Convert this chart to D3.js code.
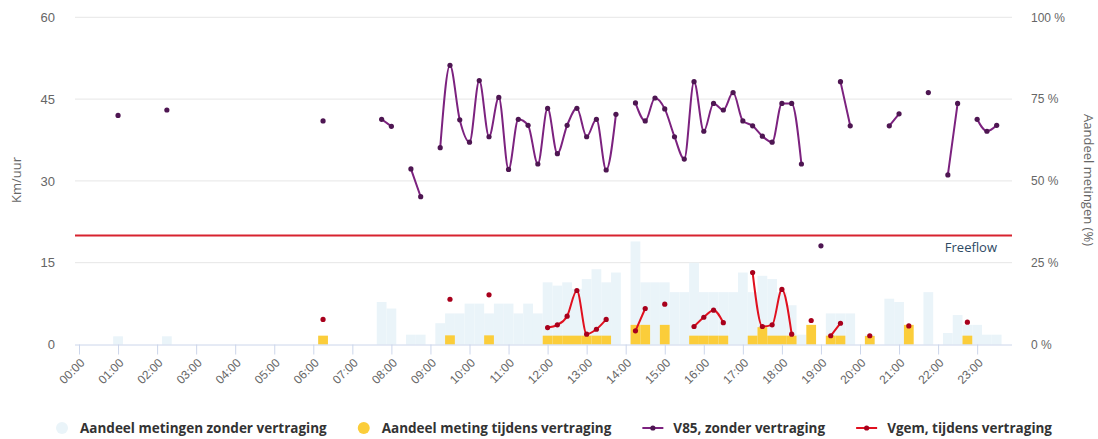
<!DOCTYPE html>
<html>
<head>
<meta charset="utf-8">
<script src="https://cdn.jsdelivr.net/npm/d3@7"></script>
<style>
  html, body { margin: 0; padding: 0; background: #fff; }
  svg { display: block; font-family: "Open Sans", "DejaVu Sans", sans-serif; }
</style>
</head>
<body>
<svg id="chart" width="1098" height="439"></svg>
<script>
// ---- DATA (96 quarter-hour slots, 00:00 .. 23:45) ----
const hourLabels = ["00:00","01:00","02:00","03:00","04:00","05:00","06:00","07:00","08:00","09:00","10:00","11:00",
                    "12:00","13:00","14:00","15:00","16:00","17:00","18:00","19:00","20:00","21:00","22:00","23:00"];

// Aandeel metingen zonder vertraging (%)
const aandeelZonder = [
  0,0,0,0,        2.5,0,0,0,      0,2.5,0,0,      0,0,0,0,
  0,0,0,0,        0,0,0,0,        0,2.5,0,0,      0,0,0,13,
  11,0,3,3,       0,6.5,9.5,9.5,  12.5,12.5,9.5,12.5, 12.5,9.5,12.5,9.5,
  19,18,19,17,    20,23,19,22,    0,31.5,19,19,   19,16,16,25,
  16,16,16,16,    22,16,21,20,    16,12,3,0,      0,9.5,9.5,9.5,
  0,3,0,14,       13,0,0,16,      0,3.5,9,6,      6,3,3,0
];

// Aandeel meting tijdens vertraging (%)
const aandeelVertraging = [
  0,0,0,0,        0,0,0,0,        0,0,0,0,        0,0,0,0,
  0,0,0,0,        0,0,0,0,        0,2.7,0,0,      0,0,0,0,
  0,0,0,0,        0,0,2.8,0,      0,0,2.8,0,      0,0,0,0,
  2.7,2.7,2.7,2.7, 2.7,2.7,2.7,0, 0,6,6,0,        6,0,0,2.7,
  2.7,2.7,2.7,0,  0,2.7,5.3,2.7,  2.7,2.7,0,6,    0,2.7,2.7,0,
  0,2.6,0,0,      0,6,0,0,        0,0,0,2.7,      0,0,0,0
];

// V85, zonder vertraging (km/uur)
const v85 = [
  null,null,null,null,  42,null,null,null,   null,43,null,null,   null,null,null,null,
  null,null,null,null,  null,null,null,null, null,41,null,null,   null,null,null,41.3,
  40.0,null,32.2,27.1,  null,36.1,51.2,41.2, 37.1,48.4,38.1,45.3, 32.1,41.3,40.2,33.1,
  43.3,35.0,40.2,43.3,  38.1,41.3,32.0,42.2, null,44.3,41.0,45.2, 43.2,38.1,34.0,48.2,
  39.1,44.2,43.0,46.2,  41.0,40.1,38.2,37.1, 44.2,44.2,33.1,null, 18.1,null,48.2,40.1,
  null,null,null,40.1,  42.3,null,null,46.2, null,31.1,44.2,null, 41.3,39.1,40.2,null
];

// Vgem, tijdens vertraging (km/uur)
const vgem = [
  null,null,null,null,  null,null,null,null, null,null,null,null, null,null,null,null,
  null,null,null,null,  null,null,null,null, null,4.6,null,null,  null,null,null,null,
  null,null,null,null,  null,null,8.3,null,  null,null,9.1,null,  null,null,null,null,
  3.1,3.6,5.2,9.9,      1.9,2.8,4.6,null,    null,2.5,6.6,null,   7.4,null,null,3.3,
  5.0,6.3,4.0,null,     null,13.2,3.3,3.6,   10.1,1.9,null,4.4,   null,1.6,3.9,null,
  null,1.6,null,null,   null,3.4,null,null,  null,null,null,4.1,  null,null,null,null
];

const freeflow = 20;
const leftTicks = [0, 15, 30, 45, 60];
const rightTicks = [0, 25, 50, 75, 100];
const legendNames = ["Aandeel metingen zonder vertraging", "Aandeel meting tijdens vertraging",
                     "V85, zonder vertraging", "Vgem, tijdens vertraging"];

// ---- CHART ----
const C = { blue: "#eaf4f9", yellow: "#fbcd3a", purple: "#7c227f", purpleDot: "#4e1652", red: "#e0101f", redDot: "#a8001c" };
const svg = d3.select("#chart");
const plotL = 75, plotR = 1012, plotT = 17.3, plotB = 344.5;
const slotW = 39.05 / 4;

const x = d3.scaleLinear().domain([0, 95]).range([79, 79 + 95 * slotW]);
const xh = d3.scaleLinear().domain([0, 95 / 4]).range([79, 79 + 95 * slotW]);
const yL = d3.scaleLinear().domain([0, 60]).range([plotB, plotT]);
const yR = d3.scaleLinear().domain([0, 100]).range([plotB, plotT]);

const idx = d3.range(96);

// gridlines
svg.append("g").selectAll("line").data(leftTicks.filter(d => d > 0)).join("line")
  .attr("x1", plotL).attr("x2", plotR)
  .attr("y1", d => yL(d)).attr("y2", d => yL(d))
  .attr("stroke", "#e6e6e6").attr("stroke-width", 1);

// left axis labels
const gL = svg.append("g").attr("transform", `translate(${plotL},0)`)
  .call(d3.axisLeft(yL).tickValues(leftTicks).tickSize(0).tickPadding(20));
gL.select(".domain").remove();
gL.selectAll("text").attr("fill", "#666").attr("font-size", 13);

// right axis labels
const gR = svg.append("g").attr("transform", `translate(${plotR},0)`)
  .call(d3.axisRight(yR).tickValues(rightTicks).tickSize(0).tickPadding(19).tickFormat(d => d + " %"));
gR.select(".domain").remove();
gR.selectAll("text").attr("fill", "#666").attr("font-size", 12);

// axis titles
svg.append("text").attr("transform", `translate(21,180) rotate(-90)`)
  .attr("text-anchor", "middle").attr("fill", "#666").attr("font-size", 13).text("Km/uur");
svg.append("text").attr("transform", `translate(1084,180) rotate(90)`)
  .attr("text-anchor", "middle").attr("fill", "#666").attr("font-size", 13).text("Aandeel metingen (%)");

// bars
svg.append("g").selectAll("rect").data(idx.filter(i => aandeelZonder[i] > 0)).join("rect")
  .attr("x", i => x(i) - slotW / 2).attr("width", slotW)
  .attr("y", i => yR(aandeelZonder[i])).attr("height", i => plotB - yR(aandeelZonder[i]))
  .attr("fill", C.blue);
svg.append("g").selectAll("rect").data(idx.filter(i => aandeelVertraging[i] > 0)).join("rect")
  .attr("x", i => x(i) - slotW / 2).attr("width", slotW)
  .attr("y", i => yR(aandeelVertraging[i])).attr("height", i => plotB - yR(aandeelVertraging[i]))
  .attr("fill", C.yellow);

// freeflow line
svg.append("line").attr("x1", plotL).attr("x2", plotR)
  .attr("y1", yL(freeflow)).attr("y2", yL(freeflow))
  .attr("stroke", "#d7232f").attr("stroke-width", 2);
svg.append("text").attr("x", 997).attr("y", yL(freeflow) + 17)
  .attr("text-anchor", "end").attr("fill", "#2e4a64").attr("font-size", 13).text("Freeflow");

// x axis
const gX = svg.append("g").attr("transform", `translate(0,${plotB})`)
  .call(d3.axisBottom(xh).tickValues(d3.range(24)).tickSize(10).tickFormat(d => hourLabels[d]));
gX.select(".domain").attr("d", `M${plotL},0.5H${plotR}`).attr("stroke", "#ccd6eb");
gX.selectAll(".tick line").attr("stroke", "#ccd6eb");
gX.selectAll("text").attr("fill", "#666").attr("font-size", 12)
  .attr("text-anchor", "end").attr("x", 0).attr("y", 0).attr("dy", "0.35em")
  .attr("transform", "translate(3,16) rotate(-45)");

// lines
const line = (arr) => d3.line().defined(i => arr[i] != null)
  .x(i => x(i)).y(i => yL(arr[i])).curve(d3.curveMonotoneX)(idx);

svg.append("path").attr("d", line(v85)).attr("fill", "none")
  .attr("stroke", C.purple).attr("stroke-width", 2);
svg.append("g").selectAll("circle").data(idx.filter(i => v85[i] != null)).join("circle")
  .attr("cx", i => x(i)).attr("cy", i => yL(v85[i])).attr("r", 2.6).attr("fill", C.purpleDot);

svg.append("path").attr("d", line(vgem)).attr("fill", "none")
  .attr("stroke", C.red).attr("stroke-width", 2);
svg.append("g").selectAll("circle").data(idx.filter(i => vgem[i] != null)).join("circle")
  .attr("cx", i => x(i)).attr("cy", i => yL(vgem[i])).attr("r", 2.6).attr("fill", C.redDot);

// legend (laid out from measured text widths, spanning x 56 .. 1052)
const legendItems = [
  { name: legendNames[0], type: "circle", color: C.blue },
  { name: legendNames[1], type: "circle", color: C.yellow },
  { name: legendNames[2], type: "line", color: C.purple, dot: C.purpleDot },
  { name: legendNames[3], type: "line", color: C.red, dot: C.redDot }
];
const lg = svg.append("g").attr("font-size", 13.5).attr("font-weight", "bold").attr("fill", "#333");
const legY = 428;
const texts = legendItems.map(it => lg.append("text").attr("y", legY + 4.5).text(it.name));
const widths = texts.map(t => t.node().getComputedTextLength());
const symW = legendItems.map(it => it.type === "circle" ? 24 : 31);
const startX = 56, endX = 1052;
const gap = (endX - startX - d3.sum(widths) - d3.sum(symW)) / (legendItems.length - 1);
let cx = startX;
legendItems.forEach((it, k) => {
  if (it.type === "circle") {
    lg.append("circle").attr("cx", cx + 6).attr("cy", legY).attr("r", 6).attr("fill", it.color);
  } else {
    lg.append("line").attr("x1", cx).attr("x2", cx + 21).attr("y1", legY).attr("y2", legY)
      .attr("stroke", it.color).attr("stroke-width", 2);
    lg.append("circle").attr("cx", cx + 10.5).attr("cy", legY).attr("r", 2.6).attr("fill", it.dot);
  }
  texts[k].attr("x", cx + symW[k]);
  cx += symW[k] + widths[k] + gap;
});
</script>
</body>
</html>
